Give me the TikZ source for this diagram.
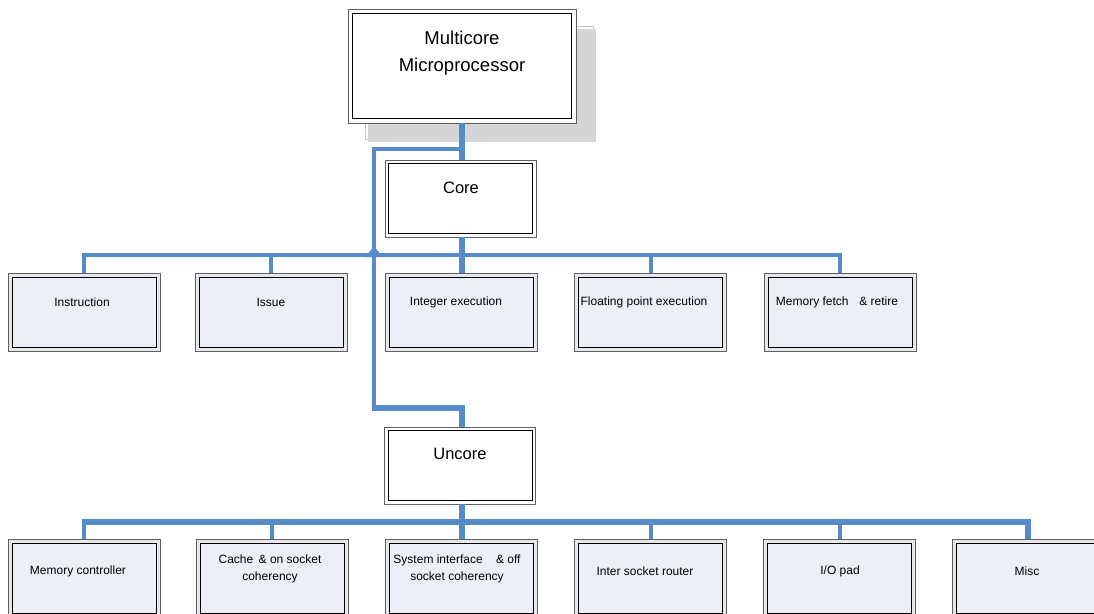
\documentclass[tikz,border=0pt]{standalone}
\usepackage{fontspec}
\setmainfont{Liberation Sans}
\usetikzlibrary{calc}

\definecolor{wire}{RGB}{86,138,200}
\definecolor{boxfill}{RGB}{236,240,246}
\definecolor{bandfill}{RGB}{230,232,236}
\definecolor{rim}{RGB}{95,95,95}
\definecolor{dropgray}{RGB}{213,213,213}
\definecolor{dropline}{RGB}{200,200,200}

\tikzset{
  % boxes with a grey outer rim and a black inner frame
  topbox/.style={draw=rim, fill=white, line width=0.9pt, inner sep=0pt,
    minimum width=228pt, minimum height=114pt,
    path picture={\draw[black, line width=0.9pt]
      ([shift={(4.5pt,-4.5pt)}]path picture bounding box.north west) rectangle
      ([shift={(-4.5pt,4.5pt)}]path picture bounding box.south east);}},
  headbox/.style={draw=rim, fill=white, line width=0.9pt, inner sep=0pt,
    minimum width=151pt, minimum height=77pt,
    path picture={\draw[black, line width=0.9pt]
      ([shift={(3.5pt,-3.5pt)}]path picture bounding box.north west) rectangle
      ([shift={(-3.5pt,3.5pt)}]path picture bounding box.south east);}},
  leafbox/.style={draw=rim, fill=bandfill, line width=0.9pt, inner sep=0pt,
    minimum width=152pt, minimum height=78pt,
    path picture={\filldraw[fill=boxfill, draw=black, line width=0.9pt]
      ([shift={(4pt,-4pt)}]path picture bounding box.north west) rectangle
      ([shift={(-4pt,4pt)}]path picture bounding box.south east);}},
  titletext/.style={inner sep=0pt, align=center, text=black,
    font=\fontsize{18.5}{27}\selectfont},
  headtext/.style={inner sep=0pt, align=center, text=black,
    font=\fontsize{16.5}{20}\selectfont},
  leaftext/.style={inner sep=0pt, align=center, text=black,
    font=\fontsize{12}{17}\selectfont},
  wirethin/.style={draw=wire, line width=4pt, line join=miter},
  wirethick/.style={draw=wire, line width=6pt, line join=miter},
}

\begin{document}
\begin{tikzpicture}[x=1pt, y=-1pt]
\useasboundingbox (0,0) rectangle (1094,613);
\clip (0,0) rectangle (1094,613);

% drop shadow behind the top box
\draw[dropline, line width=0.8pt] (365,26) rectangle (593,139);
\fill[dropgray] (368,29) rectangle (596,142);

% top of the tree
\node[topbox] (mp) at (462,66) {};
\node[titletext] (mp-t) at (462,53.5) {Multicore\\Microprocessor};

\node[headbox] (core) at (460.5,198.5) {};
\node[headtext] (core-t) at (461,188) {Core};

\node[headbox] (uncore) at (460,465.5) {};
\node[headtext] (uncore-t) at (460,454) {Uncore};

% core units
\node[leafbox] (instr) at (84,312) {};
\node[leafbox] (issue) at (271,312) {};
\node[leafbox] (intex) at (461,312) {};
\node[leafbox] (fpex)  at (650.5,312) {};
\node[leafbox] (memf)  at (840,312) {};
\node[leaftext] (instr-t) at (82,302) {Instruction};
\node[leaftext] (issue-t) at (271,302) {Issue};
\node[leaftext] (intex-t) at (456,302) {Integer execution};
\node[leaftext] (fpex-t)  at (644,302) {Floating point execution};
\node[leaftext] (memf-t)  at (837,302) {Memory fetch\hspace{0.9em}\& retire};

% uncore units
\node[leafbox] (memc)  at (84,578) {};
\node[leafbox] (cache) at (272,578) {};
\node[leafbox] (sysif) at (461.5,578) {};
\node[leafbox] (isr)   at (650.5,578) {};
\node[leafbox] (iopad) at (839.5,578) {};
\node[leafbox] (misc)  at (1028,578) {};
\node[leaftext] (memc-t)  at (78,571) {Memory controller};
\node[leaftext] (cache-t) at (270,569) {Cache\hspace{0.45em}\& on socket\\coherency};
\node[leaftext] (sysif-t) at (457,569) {System interface\hspace{1.1em}\& off\\socket coherency};
\node[leaftext] (isr-t)   at (645,571) {Inter socket router};
\node[leaftext] (iopad-t) at (840,571) {I/O pad};
\node[leaftext] (misc-t)  at (1027,571) {Misc};

% bus levels
\coordinate (split) at (462,149);
\coordinate (lane)  at (374,149);
\coordinate (lanebot) at (374,408);
\coordinate (cbar) at (0,255);
\coordinate (ubar) at (0,522);

% top box to core, with the branch down to the uncore
\draw[wirethick] (mp.south) -- (mp.south |- core.north);
\draw[wirethin] (split) -- (lane) -- (lanebot);
\draw[wirethick] ($(lanebot)+(-2,0)$) -| (uncore.north -| split);

% core bus
\draw[wirethin] (instr.north) -- (instr.north |- cbar) -- (memf.north |- cbar) -- (memf.north);
\draw[wirethin] (issue.north) -- (issue.north |- cbar);
\draw[wirethin] (fpex.north) -- (fpex.north |- cbar);
\draw[wirethick] (core.south -| split) -- (intex.north -| split);
% hop where the core bus crosses the uncore lane
\fill[wire] (365,257) -- (374,246.5) -- (383,257) -- cycle;

% uncore bus
\draw[wirethick] (uncore.south -| split) -- (sysif.north -| split);
\draw[wirethin] (memc.north) -- ($(memc.north |- ubar)+(0,-3)$);
\draw[wirethick] ($(memc.north |- ubar)+(-2,0)$) -| (misc.north);
\draw[wirethin] (cache.north) -- (cache.north |- ubar);
\draw[wirethin] (isr.north) -- (isr.north |- ubar);
\draw[wirethin] (iopad.north) -- (iopad.north |- ubar);
\end{tikzpicture}
\end{document}
